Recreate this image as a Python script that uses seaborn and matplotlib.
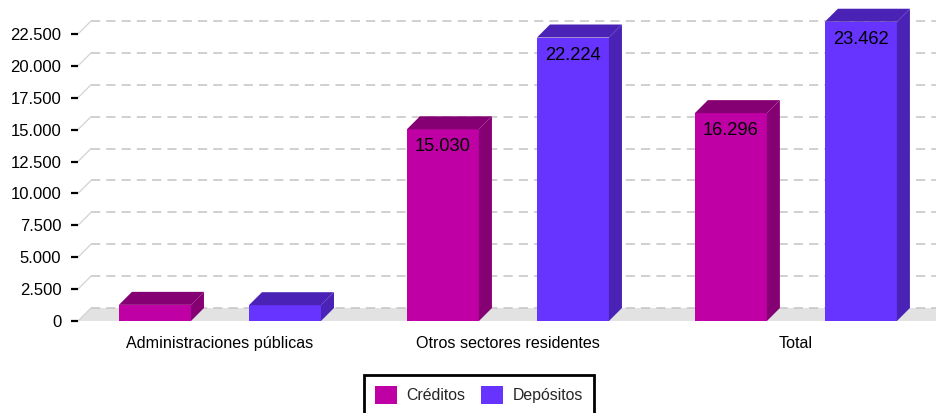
import matplotlib
matplotlib.use("Agg")
import matplotlib.pyplot as plt
import seaborn as sns
import pandas as pd
from matplotlib.patches import Polygon, Patch
from matplotlib.ticker import FuncFormatter

# Data
categories = ["Administraciones públicas", "Otros sectores residentes", "Total"]
series = ["Créditos", "Depósitos"]
creditos = [1266, 15030, 16296]
depositos = [1238, 22224, 23462]
y_ticks = list(range(0, 22501, 2500))

front_colors = {"Créditos": "#BF00A5", "Depósitos": "#6633FF"}
shade_colors = {"Créditos": "#850072", "Depósitos": "#4A22B5"}

df = pd.DataFrame({
    "sector": categories * 2,
    "serie": [series[0]] * len(categories) + [series[1]] * len(categories),
    "valor": creditos + depositos,
})

sns.set_theme(style="white")
plt.rcParams["font.family"] = ["Liberation Sans", "DejaVu Sans"]

W, H = 937, 413
fig = plt.figure(figsize=(W / 100, H / 100), dpi=100)
ax = fig.add_axes([78 / W, (H - 321) / H, (W - 78) / W, (321 - 8) / H])

sns.barplot(data=df, x="sector", y="valor", hue="serie", order=categories,
            hue_order=series, palette=front_colors, saturation=1,
            width=0.903, gap=0.446, dodge=True, legend=False, ax=ax, zorder=2,
            linewidth=0, edgecolor="none")

x_left, x_right = -0.493, 2.49
ax.set_xlim(x_left, x_right)
ax.set_ylim(0, 24538)

# depth offset of the pseudo-3D boxes, 13 px right and 13 px up
inv = ax.transData.inverted()
p0 = inv.transform((0, 0))
p1 = inv.transform((13, 13))
ddx, ddy = p1[0] - p0[0], p1[1] - p0[1]

# floor
ax.add_patch(Polygon([(x_left, 0), (x_left + ddx, ddy), (x_right + 1, ddy), (x_right + 1, 0)],
                     closed=True, facecolor="#e2e2e2", edgecolor="none", zorder=0))

# back-wall grid lines
for t in y_ticks:
    ax.plot([x_left + ddx, x_right + 1], [t + ddy, t + ddy], color="#c4c4c4",
            lw=1.1, ls=(0, (6, 4)), zorder=0.5)
    ax.plot([x_left, x_left + ddx], [t, t + ddy], color="#d2d2d2", lw=0.9, zorder=0.5)

# top and side faces of each bar, plus value labels
for serie, container in zip(series, ax.containers):
    for bar, val in zip(container.patches, container.datavalues):
        x0 = bar.get_x()
        x1 = x0 + bar.get_width()
        h = bar.get_height()
        ax.add_patch(Polygon([(x0, h), (x1, h), (x1 + ddx, h + ddy), (x0 + ddx, h + ddy)],
                             closed=True, facecolor=shade_colors[serie],
                             edgecolor="none", zorder=2))
        ax.add_patch(Polygon([(x1, 0), (x1, h), (x1 + ddx, h + ddy), (x1 + ddx, ddy)],
                             closed=True, facecolor=shade_colors[serie],
                             edgecolor="none", zorder=2))
        if val > 5000:
            ax.annotate(f"{val:,.0f}".replace(",", "."), xy=((x0 + x1) / 2, h),
                        xytext=(0, -9), textcoords="offset pixels",
                        ha="center", va="top", fontsize=13.2, color="black", zorder=3)

ax.set_yticks(y_ticks)
ax.yaxis.set_major_formatter(FuncFormatter(lambda v, _: f"{v:,.0f}".replace(",", ".")))
ax.tick_params(axis="y", left=True, length=5, width=1.6, color="black", pad=7,
               labelsize=12, labelcolor="black")
ax.tick_params(axis="x", bottom=False, length=0, pad=10.5, labelsize=11.6, labelcolor="black")
ax.set_xlabel("")
ax.set_ylabel("")
for s in ax.spines.values():
    s.set_visible(False)

handles = [Patch(facecolor=front_colors[s], edgecolor="none", label=s) for s in series]
leg = fig.legend(handles=handles, loc="upper center", bbox_to_anchor=(479 / W, 1 - 375 / H),
                 ncol=2, fontsize=11.4, frameon=True, fancybox=False, shadow=False,
                 framealpha=1, handlelength=1.4, handleheight=1.4, handletextpad=0.6,
                 columnspacing=1.0, borderpad=0.7, borderaxespad=0)
leg.get_frame().set_edgecolor("black")
leg.get_frame().set_linewidth(2)
leg.get_frame().set_facecolor("white")

fig.savefig("out.png", dpi=100)
